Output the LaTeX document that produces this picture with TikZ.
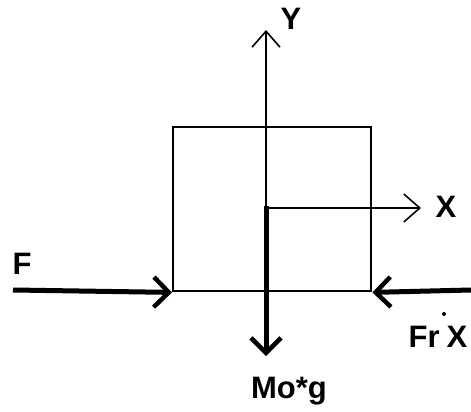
\documentclass[tikz,border=0pt]{standalone}
\usepackage{fontspec}
\setmainfont{Liberation Sans}
\usetikzlibrary{arrows.meta}
\begin{document}
\begin{tikzpicture}[x=1pt,y=-1pt,
  axis/.style={line width=1.6pt,-{Straight Barb[length=16pt,width=28pt,line width=1.6pt]}},
  force/.style={line width=5pt,-{Straight Barb[length=15pt,width=30pt,line width=4.5pt]}},
  lbl/.style={font=\bfseries\fontsize{31}{32}\selectfont, inner sep=0pt},
  body/.style={draw,line width=2.4pt,minimum width=198pt,minimum height=164pt,inner sep=0pt,anchor=north west}]
\useasboundingbox (0,0) rectangle (471,412);
\node[body] (box) at (172,126) {};
\coordinate (o) at (266,206);
\coordinate (ytip) at (266,30);
\coordinate (xtip) at (421,208);
\coordinate (fstart) at (13,290);
\coordinate (frstart) at (471,290);
\coordinate (mtip) at (266,356);
\draw[axis] (o) -- (ytip);
\draw[axis] (o |- xtip) -- (xtip);
\draw[force] (fstart) -- (box.south west);
\draw[force] (frstart) -- (box.south east);
\draw[force] (o) -- (mtip);
\node[lbl] (ly) at (291,19) {Y};
\node[lbl] (lx) at (446,207) {X};
\node[lbl] (lf) at (22,264) {F};
\node[lbl] (lfr) at (438,337) {Fr\hspace{7pt}X};
\fill (444,314) circle (2pt);
\node[lbl] (lm) at (289,391) {Mo*g};
\end{tikzpicture}
\end{document}
